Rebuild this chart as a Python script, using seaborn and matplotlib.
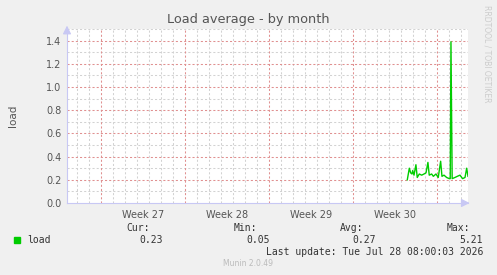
import matplotlib
matplotlib.use("Agg")
import matplotlib.pyplot as plt
import seaborn as sns
import pandas as pd
import numpy as np

# ---- data (x in days from left edge of the graph window) ----
days = [28.36, 28.53, 28.64, 28.75, 28.81, 28.92, 29.08, 29.19, 29.36, 29.56,
        29.75, 29.92, 30.08, 30.19, 30.39, 30.53, 30.75, 30.94, 31.14, 31.25,
        31.42, 31.64, 31.86, 31.94, 32.00, 32.10, 32.33, 32.53, 32.75, 32.97,
        33.17, 33.31, 33.42]
load = [0.20, 0.30, 0.26, 0.25, 0.28, 0.24, 0.33, 0.22, 0.25, 0.24,
        0.25, 0.26, 0.35, 0.24, 0.25, 0.23, 0.25, 0.22, 0.36, 0.23,
        0.24, 0.22, 0.21, 0.21, 1.39, 0.21, 0.22, 0.23, 0.24, 0.21,
        0.22, 0.30, 0.23]
week_labels = ["Week 27", "Week 28", "Week 29", "Week 30"]
week_starts = [2.83, 9.83, 16.83, 23.83, 30.83]
y_ticks = [0.0, 0.2, 0.4, 0.6, 0.8, 1.0, 1.2, 1.4]
legend_name = "load"
stats = {"Cur:": "0.23", "Min:": "0.05", "Avg:": "0.27", "Max:": "5.21"}

df = pd.DataFrame({"day": days, "load": load})

W, H = 497, 275
fig = plt.figure(figsize=(W / 100, H / 100), dpi=100, facecolor="#F0F0F0")
ax = fig.add_axes([67 / W, 1 - 203 / H, 401 / W, 174 / H])
ax.set_facecolor("white")

xmax = 33.42
ax.set_xlim(0, xmax)
ax.set_ylim(0, 1.5)

minor_c = "#D2D2D2"
major_c = "#E09090"
dash = (0, (2, 2))
lw = 0.75
# grids
minor_x = [d for d in np.arange(0.83, xmax, 1.0) if all(abs(d - w) > 0.05 for w in week_starts)]
for d in minor_x:
    ax.axvline(d, color=minor_c, lw=lw, ls=dash, zorder=1)
for y in np.arange(0.1, 1.51, 0.2):
    ax.axhline(y, color=minor_c, lw=lw, ls=dash, zorder=1)
for w in week_starts:
    ax.axvline(w, color=major_c, lw=lw, ls=dash, zorder=1.5)
for y in y_ticks[1:]:
    ax.axhline(y, color=major_c, lw=lw, ls=dash, zorder=1.5)

sns.lineplot(data=df, x="day", y="load", ax=ax, color="#00CC00", lw=1.0, zorder=3)

for s in ["top", "right"]:
    ax.spines[s].set_visible(False)
for s in ["left", "bottom"]:
    ax.spines[s].set_color("#C8C8F4")
    ax.spines[s].set_linewidth(0.8)

ax.set_yticks(y_ticks)
ax.set_yticklabels([f"{v:.1f}" for v in y_ticks])
ax.set_xticks([w + 3.5 for w in week_starts[:4]])
ax.set_xticklabels(week_labels)
ax.tick_params(axis="both", length=0, labelsize=7, colors="#555555", pad=4)
ax.tick_params(axis="x", pad=5)
ax.set_xlabel("")
ax.set_ylabel("load", fontsize=7.5, color="#555555", labelpad=20)

# axis arrows
ax.annotate("", xy=(1.011, 0), xytext=(0.99, 0), xycoords="axes fraction",
            arrowprops=dict(arrowstyle="-|>,head_length=0.5,head_width=0.25",
                            color="#C8C8F4", lw=0.8), annotation_clip=False)
ax.annotate("", xy=(0, 1.035), xytext=(0, 0.98), xycoords="axes fraction",
            arrowprops=dict(arrowstyle="-|>,head_length=0.5,head_width=0.25",
                            color="#C8C8F4", lw=0.8), annotation_clip=False)

fig.text(248 / W, 1 - 19 / H, "Load average - by month", ha="center", va="center",
         fontsize=9.3, color="#555555")
fig.text(487 / W, 1 - 5 / H, "RRDTOOL / TOBI OETIKER", rotation=270, ha="center",
         va="top", fontsize=5.5, color="#CCCCCC")

mono = "DejaVu Sans Mono"
fig.patches.append(plt.Rectangle((14 / W, 1 - 243 / H), 6 / W, 6 / H,
                                 transform=fig.transFigure, color="#00CC00"))
fig.text(27 / W, 1 - 240 / H, legend_name, fontsize=7, family=mono, color="#333333",
         va="center", ha="left")
label_x = [150, 257, 363, 470]
value_x = [163, 270, 376, 483]
for (k, v), lx, vx in zip(stats.items(), label_x, value_x):
    fig.text(lx / W, 1 - 228 / H, k, fontsize=7, family=mono, color="#333333",
             va="center", ha="right")
    fig.text(vx / W, 1 - 240 / H, v, fontsize=7, family=mono, color="#333333",
             va="center", ha="right")
fig.text(483 / W, 1 - 252 / H, "Last update: Tue Jul 28 08:00:03 2026", fontsize=7,
         family=mono, color="#333333", va="center", ha="right")
fig.text(248 / W, 1 - 264 / H, "Munin 2.0.49", fontsize=5.5, color="#BBBBBB",
         va="center", ha="center")

fig.savefig("out.png", dpi=100, facecolor=fig.get_facecolor())
